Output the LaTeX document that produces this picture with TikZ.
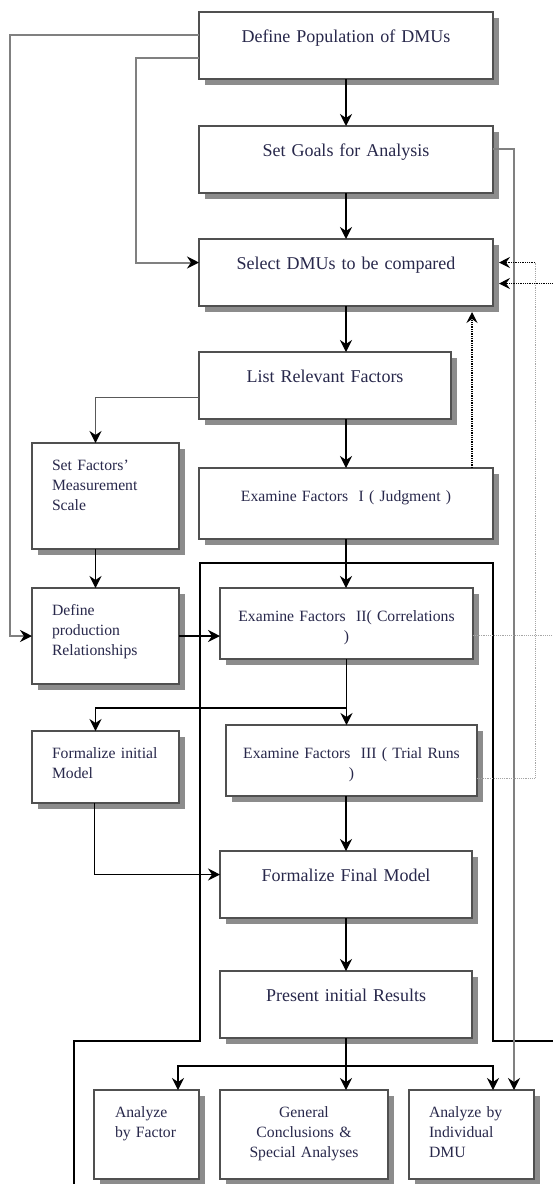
\documentclass[tikz,border=0pt]{standalone}
\usepackage{fontspec}
\setmainfont{Liberation Serif}
\usetikzlibrary{arrows.meta,shadows}
\definecolor{ink}{RGB}{40,40,75}
\definecolor{rim}{RGB}{80,80,80}

\begin{document}
\begin{tikzpicture}[x=1pt,y=-1pt,
  box/.style={draw=rim,line width=1.3pt,fill=white,inner ysep=0pt,outer sep=0pt,text=ink,
    drop shadow={shadow xshift=6pt,shadow yshift=-6pt,fill=black!45,opacity=1}},
  mainbox/.style={box,anchor=north,inner xsep=0pt,align=center,text width=#1,
    font=\fontsize{18}{20}\selectfont,text height=30pt,text depth=37pt},
  exbox/.style={box,anchor=north,inner xsep=0pt,align=center,text width=#1,
    font=\fontsize{15.7}{20}\selectfont,text height=33pt,text depth=38pt},
  sidebox/.style={box,anchor=north west,inner xsep=20pt,align=left,
    font=\fontsize{15.7}{20}\selectfont,text height=27pt},
  arr/.style={-{Stealth[length=12pt,width=12pt,inset=4pt,color=black]},line width=1.5pt},
  rail/.style={draw=black!50,line width=2pt},
  dotarr/.style={-{Stealth[length=11pt,width=11pt,inset=4pt]},densely dotted,line width=1.3pt},
  faint/.style={draw=black!35,densely dotted,line width=0.9pt},
  frame/.style={line width=2pt}]
\fill[white] (0,0) rectangle (553,1184);
\useasboundingbox (0,0) rectangle (553,1184);
\draw[frame] (560,1041) -- (493,1041) -- (493,563) -- (200,563) -- (200,1041) -- (74,1041) -- (74,1190);

\node[mainbox=294pt] (defpop) at (346,12) {Define Population of DMUs};
\node[mainbox=294pt] (goals) at (346,126) {Set Goals for Analysis};
\node[mainbox=294pt] (select) at (346,239) {Select DMUs to be compared};
\node[mainbox=252pt] (list) at (325,352) {List Relevant Factors};
\node[exbox=294pt] (exam1) at (346,468) {Examine Factors \ I ( Judgment )};
\node[exbox=253pt] (exam2) at (346.5,588) {Examine Factors \ II( Correlations\\)};
\node[exbox=251pt] (exam3) at (351.5,725) {Examine Factors \ III ( Trial Runs\\)};
\node[mainbox=252pt] (final) at (346,851) {Formalize Final Model};
\node[mainbox=252pt] (present) at (346,971) {Present initial Results};
\node[sidebox,text width=107pt,text depth=79pt] (scale) at (32,443) {Set Factors’\\Measurement\\Scale};
\node[sidebox,text width=107pt,text depth=69pt] (defprod) at (32,588) {Define\\production\\Relationships};
\node[sidebox,text width=107pt,text depth=45pt] (forminit) at (32,731) {Formalize initial\\Model};
\node[sidebox,inner xsep=21pt,text width=63pt,text depth=62pt] (byfactor) at (94,1090) {Analyze\\by Factor};
\node[sidebox,anchor=north,inner xsep=0pt,align=center,text width=168pt,text depth=62pt] (general) at (304,1090) {General\\Conclusions \&\\Special Analyses};
\node[sidebox,text width=85pt,text depth=62pt] (bydmu) at (409,1090) {Analyze by\\Individual\\DMU};

\coordinate (railL) at (10,0);
\coordinate (railM) at (136,0);
\coordinate (loopA) at (535,0);
\coordinate (loopB) at (556,0);
\coordinate (selA) at ([xshift=6pt,yshift=10pt]select.east);
\coordinate (selB) at ([xshift=6pt,yshift=-11pt]select.east);
\coordinate (fork2) at ([yshift=-49pt]exam2.south);
\coordinate (fork3) at ([yshift=-28pt]present.south);

\draw[arr] (defpop.south) -- (goals.north);
\draw[arr] (goals.south) -- (select.north);
\draw[arr] (select.south) -- (select.south |- list.north);
\draw[arr] (exam1.north |- list.south) -- (exam1.north);
\draw[arr] (exam1.south) -- (exam1.south |- exam2.north);
\draw[arr] (exam2.south) -- (exam2.south |- exam3.north);
\draw[arr] (final.north |- exam3.south) -- (final.north);
\draw[arr] (final.south) -- (present.north);
\draw[arr] (present.south) -- (present.south |- general.north);

\draw[arr,rail] ([yshift=11pt]defpop.west) -- ([yshift=11pt]defpop.west -| railL) |- (defprod.west);
\draw[arr,rail] ([yshift=-12pt]defpop.west) -- ([yshift=-12pt]defpop.west -| railM) |- ([yshift=10pt]select.west);
\draw[arr,rail] ([yshift=11pt]goals.east) -| ([xshift=42.5pt]bydmu.north);
\draw[arr,draw=black!65] ([yshift=-12pt]list.west) -| ([xshift=-10pt]scale.north);
\draw[arr] ([xshift=-10pt]scale.south) -- ([xshift=-10pt]defprod.north);
\draw[arr] (defprod.east) -- (defprod.east -| exam2.west);
\draw[arr] (fork2) -| ([xshift=-10pt]forminit.north);
\draw[arr] ([xshift=-11pt]forminit.south) |- ([yshift=10pt]final.west);
\draw[arr] (fork3) -| ([xshift=31.5pt]byfactor.north);
\draw[arr] (fork3) -| ([xshift=21.5pt]bydmu.north);

\draw[dotarr] ([xshift=126pt]exam1.north) -- ([xshift=126pt,yshift=-6pt]select.south);
\draw[faint] ([yshift=-18pt]exam3.east) -| (loopA |- selA);
\draw[faint] ([yshift=-12pt]exam2.east) -| (loopB |- selB);
\draw[dotarr] (loopA |- selA) -- (selA);
\draw[dotarr] (loopB |- selB) -- (selB);
\end{tikzpicture}
\end{document}
